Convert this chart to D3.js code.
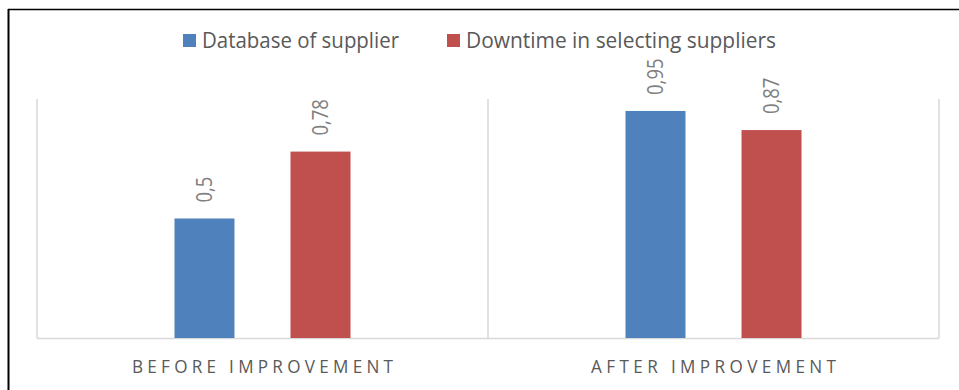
<!DOCTYPE html>
<html>
<head>
<meta charset="utf-8">
<script src="https://cdn.jsdelivr.net/npm/d3@7"></script>
<style>
    body { margin: 0; background: #fff; }
    text { font-family: "Open Sans", "Noto Sans", sans-serif; }
</style>
</head>
<body>
<script>
// Chart data
var categories = ["BEFORE IMPROVEMENT", "AFTER IMPROVEMENT"];
var seriesNames = ["Database of supplier", "Downtime in selecting suppliers"];
var databaseValues = [0.5, 0.95];
var downtimeValues = [0.78, 0.87];
var valueLabels = [["0,5", "0,78"], ["0,95", "0,87"]];

var colors = ["#4f81bd", "#c0504d"];

var W = 959, H = 390;
var plot = {left: 37, right: 939, top: 99, bottom: 338};

var svg = d3.select("body").append("svg")
    .attr("width", W)
    .attr("height", H);

// outer frame lines (top and left only, as in the picture)
svg.append("line")
    .attr("x1", 8).attr("x2", W).attr("y1", 9.5).attr("y2", 9.5)
    .attr("stroke", "#000").attr("stroke-width", 1.5);
svg.append("line")
    .attr("x1", 8.5).attr("x2", 8.5).attr("y1", 9).attr("y2", H)
    .attr("stroke", "#000").attr("stroke-width", 2);

// scales
var xScale = d3.scaleBand()
    .domain(categories)
    .range([plot.left, plot.right])
    .padding(0);

var xInner = d3.scaleBand()
    .domain(seriesNames)
    .range([0, xScale.bandwidth()])
    .paddingInner(0.483)
    .paddingOuter(1.185);

var yScale = d3.scaleLinear().domain([0, 1]).range([plot.bottom, plot.top]);

// category separators and the axis line
var seps = [plot.left].concat(categories.map(function(c) {
    return xScale(c) + xScale.bandwidth();
}));
svg.selectAll("line.sep")
    .data(seps)
    .enter().append("line")
    .attr("class", "sep")
    .attr("x1", function(d) { return d; })
    .attr("x2", function(d) { return d; })
    .attr("y1", plot.top)
    .attr("y2", plot.bottom)
    .attr("stroke", "#d9d9d9")
    .attr("stroke-width", 1.5);

svg.append("line")
    .attr("x1", plot.left).attr("x2", plot.right)
    .attr("y1", plot.bottom + 0.5).attr("y2", plot.bottom + 0.5)
    .attr("stroke", "#d9d9d9")
    .attr("stroke-width", 1.5);

// build rows for the bars
var rows = [];
categories.forEach(function(c, i) {
    rows.push({cat: c, series: seriesNames[0], value: databaseValues[i],
               label: valueLabels[i][0], color: colors[0]});
    rows.push({cat: c, series: seriesNames[1], value: downtimeValues[i],
               label: valueLabels[i][1], color: colors[1]});
});

svg.selectAll("rect.bar")
    .data(rows)
    .enter().append("rect")
    .attr("class", "bar")
    .attr("x", function(d) { return xScale(d.cat) + xInner(d.series); })
    .attr("y", function(d) { return yScale(d.value); })
    .attr("width", xInner.bandwidth())
    .attr("height", function(d) { return plot.bottom - yScale(d.value); })
    .attr("fill", function(d) { return d.color; });

// rotated value labels above the bars (squeezed a little, like Calibri)
svg.selectAll("text.val")
    .data(rows)
    .enter().append("text")
    .attr("class", "val")
    .attr("transform", function(d) {
        var cx = xScale(d.cat) + xInner(d.series) + xInner.bandwidth() / 2;
        return "translate(" + cx + "," + (yScale(d.value) - 16) + ")rotate(-90)";
    })
    .attr("dy", "0.36em")
    .attr("font-size", "22px")
    .attr("fill", "#808080")
    .text(function(d) { return d.label; })
    .each(function() {
        var len = this.getComputedTextLength();
        d3.select(this)
            .attr("textLength", len * 0.84)
            .attr("lengthAdjust", "spacingAndGlyphs");
    });

// category labels: condensed, spaced-out capitals
var catWidths = [261, 245];
var catSquash = 0.9;
svg.selectAll("text.cat")
    .data(categories)
    .enter().append("text")
    .attr("class", "cat")
    .attr("x", 0)
    .attr("y", 373)
    .attr("text-anchor", "middle")
    .attr("font-size", "19px")
    .attr("fill", "#595959")
    .attr("transform", function(d) {
        return "translate(" + (xScale(d) + xScale.bandwidth() / 2) + ",0)scale(" + catSquash + ",1)";
    })
    .attr("textLength", function(d, i) { return catWidths[i] / catSquash; })
    .attr("lengthAdjust", "spacing")
    .text(function(d) { return d; });

// legend
var legendX = [183, 447];
var legendW = [197, 310];
var legend = svg.selectAll("g.leg")
    .data(seriesNames)
    .enter().append("g")
    .attr("class", "leg")
    .attr("transform", function(d, i) { return "translate(" + legendX[i] + ",0)"; });

legend.append("rect")
    .attr("x", 0).attr("y", 34)
    .attr("width", 13).attr("height", 13)
    .attr("fill", function(d, i) { return colors[i]; });

legend.append("text")
    .attr("x", 19)
    .attr("y", 48)
    .attr("font-size", "21px")
    .attr("fill", "#595959")
    .attr("textLength", function(d, i) { return legendW[i]; })
    .attr("lengthAdjust", "spacingAndGlyphs")
    .text(function(d) { return d; });
</script>
</body>
</html>
